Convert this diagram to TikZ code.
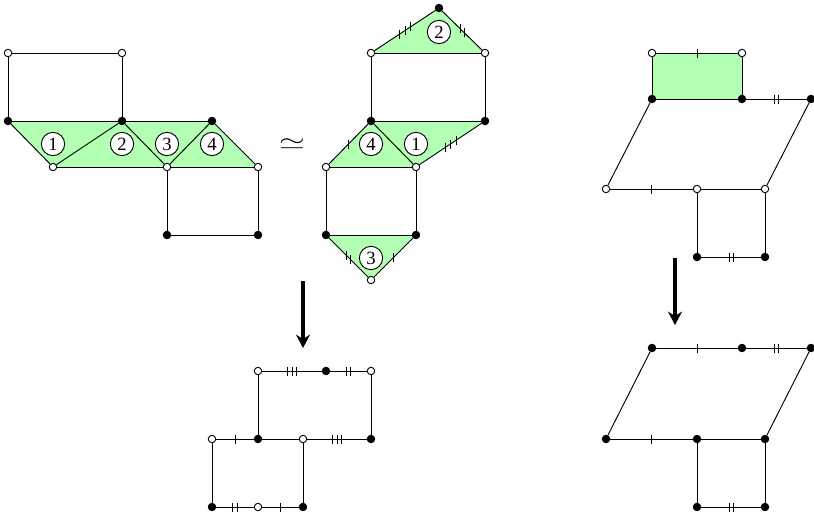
\documentclass[tikz,border=0pt]{standalone}
\usepackage{graphicx}
\usepackage{fontspec}
\setmainfont{Liberation Serif}
\usetikzlibrary{backgrounds,arrows.meta}
\definecolor{facegreen}{HTML}{B3FFB3}
\tikzset{
  x=0.75pt,y=-0.75pt,
  hollow/.style={circle,draw=black,fill=white,line width=0.7pt,inner sep=0pt,minimum size=5.6pt},
  solid vertex/.style={circle,draw=black,fill=black,line width=0.7pt,inner sep=0pt,minimum size=5.6pt},
  facelabel/.style={circle,draw=black,fill=white,line width=0.7pt,inner sep=0pt,minimum size=17.5pt,font=\fontsize{14}{14}\selectfont},
  edge/.style={draw=black,line width=0.7pt},
  face/.style={fill=facegreen},
  bigarrow/.style={draw=black,line width=2.6pt,-{Stealth[length=10pt,width=10.5pt]}},
  tick/.pic={\draw[line width=0.6pt] (0,-4.5)--(0,4.5);},
}
\begin{document}
\begin{tikzpicture}
\useasboundingbox (0,0) rectangle (814,515);
% left strip
\foreach \n/\x/\y in {a1/8/53,a2/122/53,a5/53/167,a6/167/167,a7/258/167}
  \node[hollow] (\n) at (\x,\y) {};
\foreach \n/\x/\y in {a3/8/121,a4/122/121,a8/212/121,a9/167/235,a10/258/235}
  \node[solid vertex] (\n) at (\x,\y) {};
% middle strip
\foreach \n/\x/\y in {b2/371/53,b3/485/53,b6/326/167,b7/416/167,b10/371/280}
  \node[hollow] (\n) at (\x,\y) {};
\foreach \n/\x/\y in {b1/439/8,b4/371/121,b5/485/121,b8/326/235,b9/416/235}
  \node[solid vertex] (\n) at (\x,\y) {};
% bottom middle
\foreach \n/\x/\y in {c1/258/371,c3/371/371,c4/212/439,c6/303/439,c9/258/507}
  \node[hollow] (\n) at (\x,\y) {};
\foreach \n/\x/\y in {c2/326/371,c5/258/439,c7/371/439,c8/212/507,c10/303/507}
  \node[solid vertex] (\n) at (\x,\y) {};
% top right
\foreach \n/\x/\y in {d1/652/53,d2/742/53,d6/606/189,d7/697/189,d8/765/189}
  \node[hollow] (\n) at (\x,\y) {};
\foreach \n/\x/\y in {d3/652/99,d4/742/99,d5/811/99,d9/697/257,d10/765/257}
  \node[solid vertex] (\n) at (\x,\y) {};
% bottom right
\foreach \n/\x/\y in {e1/652/348,e2/742/348,e3/811/348,e4/606/439,e5/697/439,e6/765/439,e7/697/507,e8/765/507}
  \node[solid vertex] (\n) at (\x,\y) {};
% labels
\node[facelabel] (l1) at (53,144) {1};
\node[facelabel] (l2) at (122,144) {2};
\node[facelabel] (l3) at (167,144) {3};
\node[facelabel] (l4) at (212,144) {4};
\node[facelabel] (m2) at (439,32) {2};
\node[facelabel] (m4) at (371,144) {4};
\node[facelabel] (m1) at (416,144) {1};
\node[facelabel] (m3) at (371,258) {3};
\node[font=\fontsize{24}{24}\selectfont] (sim) at (292,144) {\scalebox{1}[0.7]{$\simeq$}};
% arrows
\coordinate (p1) at (303,281);
\coordinate (p2) at (303,348);
\coordinate (q1) at (675,258);
\coordinate (q2) at (675,325);
\draw[bigarrow] (p1) -- (p2);
\draw[bigarrow] (q1) -- (q2);
\begin{pgfonlayer}{background}
  \fill[face] (a3.center)--(a8.center)--(a7.center)--(a5.center)--cycle;
  \fill[face] (b2.center)--(b1.center)--(b3.center)--cycle;
  \fill[face] (b4.center)--(b5.center)--(b7.center)--(b6.center)--cycle;
  \fill[face] (b8.center)--(b9.center)--(b10.center)--cycle;
  \fill[face] (d1.center)--(d2.center)--(d4.center)--(d3.center)--cycle;
  % left strip
  \draw[edge] (a1)--(a2); \draw[edge] (a1)--(a3); \draw[edge] (a2)--(a4);
  \draw[edge] (a3)--(a4); \draw[edge] (a4)--(a8);
  \draw[edge] (a3)--(a5); \draw[edge] (a5)--(a4); \draw[edge] (a4)--(a6);
  \draw[edge] (a6)--(a8); \draw[edge] (a8)--(a7);
  \draw[edge] (a5)--(a6); \draw[edge] (a6)--(a7);
  \draw[edge] (a6)--(a9); \draw[edge] (a7)--(a10); \draw[edge] (a9)--(a10);
  % middle strip
  \draw[edge] (b2)--(b1) pic[pos=.41]{tick} pic[pos=.5]{tick} pic[pos=.59]{tick};
  \draw[edge] (b1)--(b3) pic[pos=.45]{tick} pic[pos=.55]{tick};
  \draw[edge] (b2)--(b3); \draw[edge] (b2)--(b4); \draw[edge] (b3)--(b5);
  \draw[edge] (b4)--(b5);
  \draw[edge] (b4)--(b6) pic[pos=.5]{tick};
  \draw[edge] (b4)--(b7);
  \draw[edge] (b5)--(b7) pic[pos=.41]{tick} pic[pos=.5]{tick} pic[pos=.59]{tick};
  \draw[edge] (b6)--(b7); \draw[edge] (b6)--(b8); \draw[edge] (b7)--(b9);
  \draw[edge] (b8)--(b9);
  \draw[edge] (b8)--(b10) pic[pos=.45]{tick} pic[pos=.55]{tick};
  \draw[edge] (b9)--(b10) pic[pos=.5]{tick};
  % bottom middle
  \draw[edge] (c1)--(c2) pic[pos=.418]{tick} pic[pos=.5]{tick} pic[pos=.582]{tick};
  \draw[edge] (c2)--(c3) pic[pos=.442]{tick} pic[pos=.558]{tick};
  \draw[edge] (c1)--(c5); \draw[edge] (c3)--(c7);
  \draw[edge] (c4)--(c5) pic[pos=.5]{tick};
  \draw[edge] (c5)--(c6);
  \draw[edge] (c6)--(c7) pic[pos=.418]{tick} pic[pos=.5]{tick} pic[pos=.582]{tick};
  \draw[edge] (c4)--(c8); \draw[edge] (c6)--(c10);
  \draw[edge] (c8)--(c9) pic[pos=.442]{tick} pic[pos=.558]{tick};
  \draw[edge] (c9)--(c10) pic[pos=.5]{tick};
  % top right
  \draw[edge] (d1)--(d2) pic[pos=.5]{tick};
  \draw[edge] (d1)--(d3); \draw[edge] (d2)--(d4); \draw[edge] (d3)--(d4);
  \draw[edge] (d4)--(d5) pic[pos=.465]{tick} pic[pos=.535]{tick};
  \draw[edge] (d3)--(d6); \draw[edge] (d5)--(d8);
  \draw[edge] (d6)--(d7) pic[pos=.5]{tick};
  \draw[edge] (d7)--(d8); \draw[edge] (d7)--(d9); \draw[edge] (d8)--(d10);
  \draw[edge] (d9)--(d10) pic[pos=.465]{tick} pic[pos=.535]{tick};
  % bottom right
  \draw[edge] (e1)--(e2) pic[pos=.5]{tick};
  \draw[edge] (e2)--(e3) pic[pos=.465]{tick} pic[pos=.535]{tick};
  \draw[edge] (e1)--(e4); \draw[edge] (e3)--(e6);
  \draw[edge] (e4)--(e5) pic[pos=.5]{tick};
  \draw[edge] (e5)--(e6); \draw[edge] (e5)--(e7); \draw[edge] (e6)--(e8);
  \draw[edge] (e7)--(e8) pic[pos=.465]{tick} pic[pos=.535]{tick};
\end{pgfonlayer}
\end{tikzpicture}
\end{document}
